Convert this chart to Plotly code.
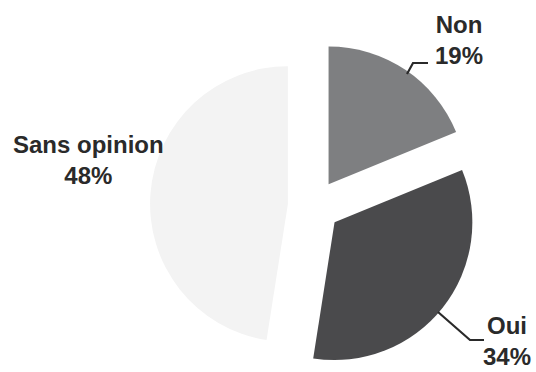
import plotly.graph_objects as go

labels = ["Non", "Oui", "Sans opinion"]
values = [19, 34, 48]
colors = ["#7e7f81", "#4a4a4c", "#f3f3f3"]

W, H = 536, 372

def px(x, y):
    return x / W, 1 - y / H

fig = go.Figure(go.Pie(
    labels=labels,
    values=values,
    sort=False,
    direction="clockwise",
    rotation=0,
    pull=[0.19, 0.19, 0.19],
    marker=dict(colors=colors, line=dict(width=0)),
    textinfo="none",
    hoverinfo="label+percent",
    domain=dict(x=[150 / W, 478 / W], y=[2 / H, 330 / H]),
    showlegend=False,
))

label_pos = {"Non": (459, 40), "Oui": (507, 341), "Sans opinion": (88, 160)}
font = dict(family="Liberation Sans, Arial, sans-serif", size=24, color="#2a2a2a")
for lab, val in zip(labels, values):
    x, y = px(*label_pos[lab])
    fig.add_annotation(x=x, y=y, xref="paper", yref="paper", text=f"<b>{lab}<br>{val}%</b>",
                       showarrow=False, xanchor="center", yanchor="middle", font=font)

def path(points):
    pts = [px(a, b) for a, b in points]
    return "M " + " L ".join(f"{a},{b}" for a, b in pts)

for pts in [[(407, 74), (413, 63), (428, 63)], [(438, 312), (470, 340), (484, 340)]]:
    fig.add_shape(type="path", xref="paper", yref="paper", path=path(pts),
                  line=dict(color="#2a2a2a", width=2.2))

fig.update_layout(width=W, height=H, margin=dict(l=0, r=0, t=0, b=0),
                  paper_bgcolor="white", plot_bgcolor="white")
fig.write_html("out.html", config={"displayModeBar": False},
               post_script="document.body.style.margin='0';")
